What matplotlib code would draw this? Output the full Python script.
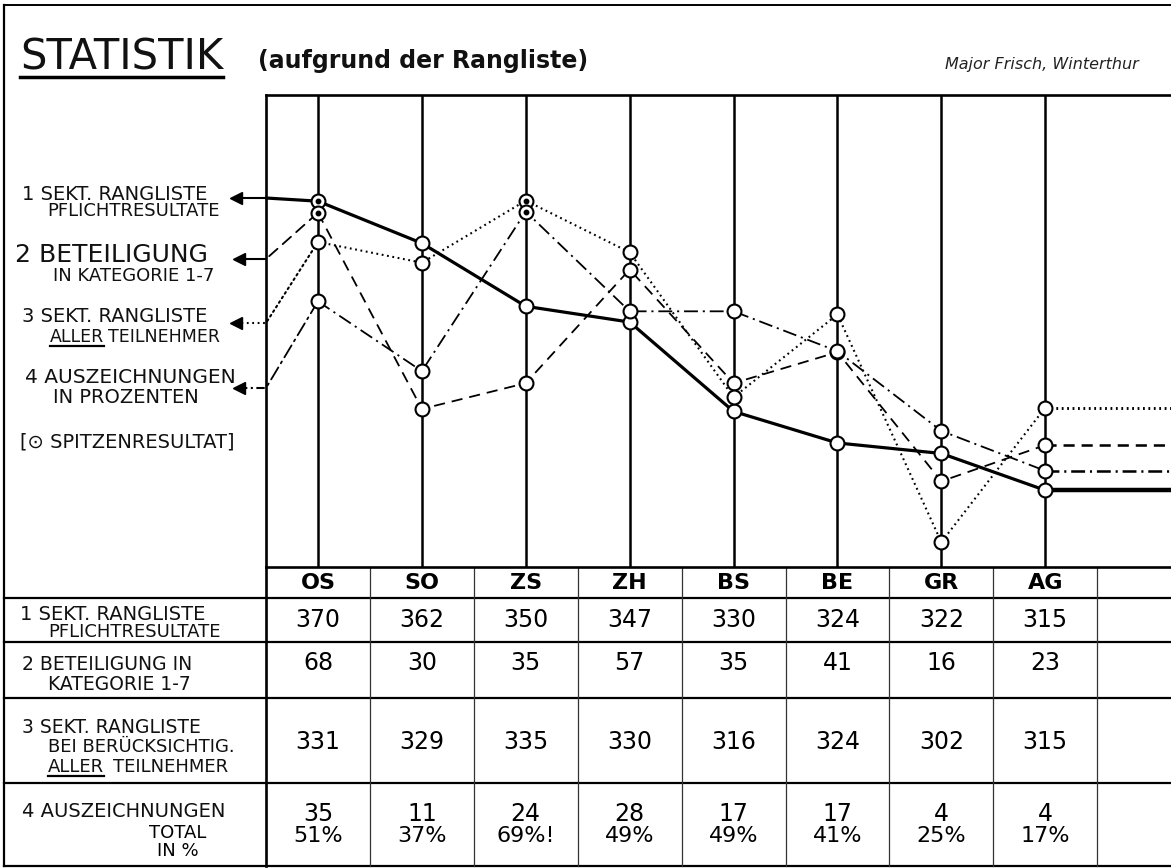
import numpy as np
import matplotlib
matplotlib.use("Agg")
import matplotlib.pyplot as plt
from matplotlib.patches import ConnectionPatch
from matplotlib.transforms import blended_transform_factory

plt.rcParams["font.family"] = ["DejaVu Sans"]
plt.rcParams["lines.scale_dashes"] = False

W, H = 1171, 868

# ── Daten ────────────────────────────────────────────────────────────────────
sektionen = ["OS", "SO", "ZS", "ZH", "BS", "BE", "GR", "AG"]
pflicht = [370, 362, 350, 347, 330, 324, 322, 315]
beteiligung = [68, 30, 35, 57, 35, 41, 16, 23]
aller = [331, 329, 335, 330, 316, 324, 302, 315]
ausz_total = [35, 11, 24, 28, 17, 17, 4, 4]
ausz_proz = [51, 37, 69, 49, 49, 41, 25, 17]
ausz_note = ["", "", "!", "", "", "", "", ""]

# ── Layout (Pixel) ───────────────────────────────────────────────────────────
PLOT = (266, 95, 1171, 567)          # x0, y0, x1, y1
SPACING = 103.9                      # px pro Sektion
XLIM = (-0.5, -0.5 + (PLOT[2] - PLOT[0]) / SPACING)
ROWS = [567, 598, 642, 698, 783, 866]

# (werte, ylim, linestyle, lw, legende-y, pfeilspitze-x, pfeil-ls)
reihen = [
    (pflicht, (300.4, 390.2), "-", 2.3, 198, 230, "-"),
    (beteiligung, (-0.6, 90.8), (0, (8, 5)), 1.3, 259, 233, "-"),
    (aller, (299.6, 345.2), (0, (1.3, 2.6)), 1.5, 323, 230, (0, (1.3, 2.6))),
    (ausz_proz, (-2.3, 92.4), (0, (10, 3.5, 1.5, 3.5)), 1.3, 388, 233,
     (0, (6, 2.5, 1.5, 2.5))),
]


def rect(x0, y0, x1, y1):
    return [x0 / W, 1 - y1 / H, (x1 - x0) / W, (y1 - y0) / H]


fig = plt.figure(figsize=(W / 100, H / 100), dpi=100)
paper = fig.add_axes([0, 0, 1, 1], zorder=0)
paper.set_xlim(0, W)
paper.set_ylim(H, 0)
paper.axis("off")
renderer = fig.canvas.get_renderer()


def x_extent(txt):
    bb = txt.get_window_extent(renderer=renderer)
    (xa, _), (xb, _) = paper.transData.inverted().transform(
        [[bb.x0, bb.y0], [bb.x1, bb.y0]])
    return xa, xb


def underline(txt, y, lw=1.5):
    xa, xb = x_extent(txt)
    paper.plot([xa, xb], [y, y], color="k", lw=lw)


def unterstrichen(wort, rest, lx, by, fs, gap=7):
    a = paper.text(lx, by, wort, fontsize=fs, va="baseline", color="#111")
    xa, xb = x_extent(a)
    paper.plot([xa, xb], [by + 4, by + 4], color="k", lw=1.6)
    paper.text(xb + gap, by, rest, fontsize=fs, va="baseline", color="#111")


# ── Rahmen ───────────────────────────────────────────────────────────────────
paper.plot([4, 4], [5, ROWS[-1]], color="k", lw=1.6)
paper.plot([4, W], [5, 5], color="k", lw=1.4)

# ── Titel ────────────────────────────────────────────────────────────────────
t = paper.text(20, 70, "STATISTIK", fontsize=30, va="baseline", color="#111")
underline(t, 77, lw=2.5)
paper.text(258, 68, "(aufgrund der Rangliste)", fontsize=17, fontweight="bold",
           va="baseline", color="#111")
paper.text(945, 69, "Major Frisch, Winterthur", fontsize=11.5, style="italic",
           va="baseline", color="#222")

# ── Diagramm ─────────────────────────────────────────────────────────────────
base = fig.add_axes(rect(*PLOT), zorder=1)
base.patch.set_alpha(0)
base.set_xlim(*XLIM)
base.set_xticks(range(len(sektionen)))
base.set_yticks([])
base.tick_params(length=0, labelbottom=False)
base.grid(axis="x", color="k", lw=1.8)
for side in ["left", "top", "bottom"]:
    base.spines[side].set_linewidth(1.9)
base.spines["right"].set_visible(False)

x = np.arange(len(sektionen))
linien_axes = []
for k, (werte, lim, ls, lw, ly, tip, pls) in enumerate(reihen):
    la = fig.add_axes(rect(*PLOT), zorder=2 + k, sharex=base)
    la.set_ylim(*lim)
    la.axis("off")
    la.plot(x, werte, color="k", ls=ls, lw=lw)
    la.plot([x[-1], XLIM[1]], [werte[-1], werte[-1]], color="k", ls=ls,
            lw=lw * 1.4)
    con = ConnectionPatch(xyA=(0, werte[0]), coordsA=la.transData,
                          xyB=(PLOT[0], ly), coordsB=paper.transData,
                          color="k", lw=lw, linestyle=ls, zorder=3)
    fig.add_artist(con)
    paper.plot([tip + 6, PLOT[0]], [ly, ly], color="k", ls=pls, lw=1.5)
    paper.plot(tip + 6, ly, marker="<", ms=9, color="k")
    linien_axes.append(la)

for k, (werte, lim, *_rest) in enumerate(reihen):
    ma = fig.add_axes(rect(*PLOT), zorder=10 + k, sharex=base,
                      sharey=linien_axes[k])
    ma.axis("off")
    ma.plot(x, werte, ls="none", marker="o", ms=10, mfc="white", mec="k",
            mew=1.5)
    top = int(np.argmax(werte))
    ma.plot(x[top], werte[top], ls="none", marker="o", ms=3.2, color="k")

# ── Legende links ────────────────────────────────────────────────────────────
legende = [
    ("1 SEKT. RANGLISTE", 22, 200, 14),
    ("PFLICHTRESULTATE", 47, 216, 13),
    ("2 BETEILIGUNG", 15, 262, 18),
    ("IN KATEGORIE 1-7", 53, 281, 13),
    ("3 SEKT. RANGLISTE", 22, 322, 14),
    ("4 AUSZEICHNUNGEN", 25, 383, 14.5),
    ("IN PROZENTEN", 53, 403, 14),
    ("[⊙ SPITZENRESULTAT]", 20, 447, 14),
]
for txt, lx, by, fs in legende:
    paper.text(lx, by, txt, fontsize=fs, va="baseline", color="#111")
unterstrichen("ALLER", "TEILNEHMER", 50, 342, 12.5, gap=4)

# ── Tabelle ──────────────────────────────────────────────────────────────────
bt = blended_transform_factory(base.transData, paper.transData)
for y in ROWS[1:]:
    paper.plot([4, W], [y, y], color="k", lw=1.6)
paper.plot([PLOT[0], PLOT[0]], [ROWS[0], ROWS[-1]], color="k", lw=1.9)
for i in range(1, len(sektionen) + 1):
    paper.plot([i - 0.5, i - 0.5], [ROWS[0], ROWS[-1]], color="#333", lw=0.9,
               transform=bt)

for i, s in enumerate(sektionen):
    paper.text(i, 583, s, fontsize=16, fontweight="bold", ha="center",
               va="center", transform=bt)
    paper.text(i, 620, str(pflicht[i]), fontsize=17, ha="center", va="center",
               transform=bt)
    paper.text(i, 663, str(beteiligung[i]), fontsize=17, ha="center",
               va="center", transform=bt)
    paper.text(i, 742, str(aller[i]), fontsize=17, ha="center", va="center",
               transform=bt)
    paper.text(i, 814, str(ausz_total[i]), fontsize=17, ha="center",
               va="center", transform=bt)
    paper.text(i, 836, f"{ausz_proz[i]}%{ausz_note[i]}", fontsize=16,
               ha="center", va="center", transform=bt)

tabelle = [
    ("1 SEKT. RANGLISTE", 20, 620, 14),
    ("PFLICHTRESULTATE", 48, 637, 13),
    ("2 BETEILIGUNG IN", 22, 670, 13.5),
    ("KATEGORIE 1-7", 48, 690, 13.5),
    ("3 SEKT. RANGLISTE", 22, 733, 13.5),
    ("BEI BERÜCKSICHTIG.", 48, 752, 13),
    ("4 AUSZEICHNUNGEN", 22, 817, 14),
]
for txt, lx, by, fs in tabelle:
    paper.text(lx, by, txt, fontsize=fs, va="baseline", color="#111")
unterstrichen("ALLER", "TEILNEHMER", 48, 772, 13, gap=9)
paper.text(178, 838, "TOTAL", fontsize=13, ha="center", va="baseline")
paper.text(178, 856, "IN %", fontsize=13, ha="center", va="baseline")

fig.savefig("out.png", dpi=100)
